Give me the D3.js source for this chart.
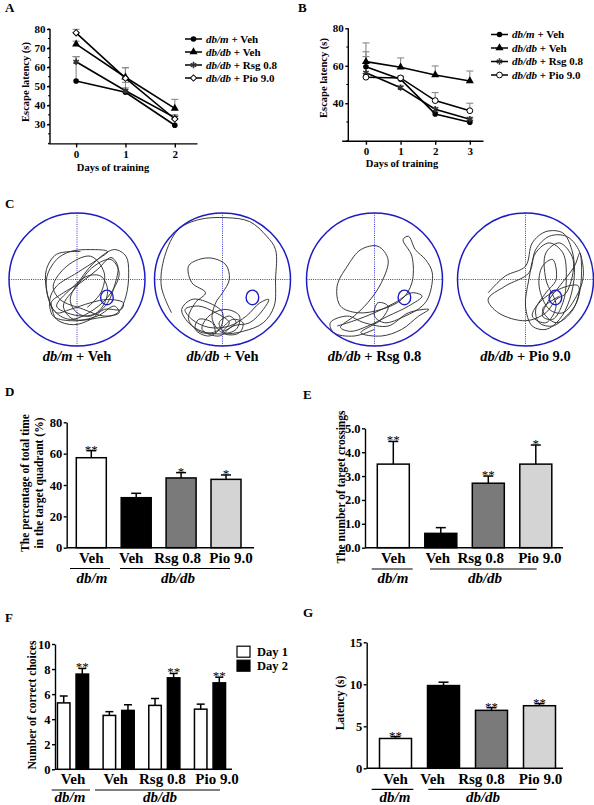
<!DOCTYPE html>
<html><head><meta charset="utf-8">
<script src="https://cdn.jsdelivr.net/npm/d3@7"></script>
<style>
body{margin:0;background:#fff}
svg{display:block}
text{font-family:"Liberation Serif","Times New Roman",serif;font-weight:bold;fill:#000}
</style>
</head><body>
<svg id="c" width="594" height="805"></svg>
<script>
// ---------------- DATA ----------------
const groupNames = ["db/m","db/db","db/db","db/db"];
const treatNames = [" + Veh"," + Veh"," + Rsg 0.8"," + Pio 9.0"];

// Panel A (escape latency, days 0-2)
const daysA = [0,1,2];
const A_dbmVeh  = [52.7,46.8,29.5], A_dbmVehErr  = [12.8,5.2,4.5];
const A_dbdbVeh = [72.1,54.7,38.4], A_dbdbVehErr = [1.5,5.0,4.7];
const A_dbdbRsg = [62.8,47.6,33.5], A_dbdbRsgErr = [2.7,1.5,1.5];
const A_dbdbPio = [78.0,54.2,32.8], A_dbdbPioErr = [1.8,5.5,1.5];
const A_yTicks = [30,40,50,60,70,80];

// Panel B (escape latency, days 0-3)
const daysB = [0,1,2,3];
const B_dbmVeh  = [59.5,52.8,34.3,29.9], B_dbmVehErr  = [8.0,1.5,1.0,1.0];
const B_dbdbVeh = [62.2,59.2,55.1,51.9], B_dbdbVehErr = [10.0,5.0,4.8,5.3];
const B_dbdbRsg = [56.3,48.3,36.8,31.5], B_dbdbRsgErr = [8.6,1.0,1.0,1.0];
const B_dbdbPio = [53.9,53.5,41.4,36.0], B_dbdbPioErr = [2.0,1.0,4.3,4.0];
const B_yTicks = [40,60,80];

// Panel C swim paths (normalised pool coordinates, x right, y down, radius 1)
const poolNames = ["dbm_veh","dbdb_veh","dbdb_rsg","dbdb_pio"];
const platformPos = [0.44,0.27];
const path_dbmVeh = [[0.05,-0.42],[-0.3,-0.38],[-0.45,-0.15],[-0.45,0.15],[-0.38,0.4],[-0.3,0.6],[-0.05,0.68],[0.2,0.6],[0.4,0.45],[0.65,0.45],[0.68,0.35],[0.45,0.3],[0.2,0.35],[-0.1,0.45],[-0.3,0.5],[-0.38,0.35],[-0.2,0.2],[0.05,0.05],[0.3,-0.15],[0.5,-0.33],[0.6,-0.2],[0.55,0.1],[0.45,0.35],[0.3,0.5],[0.1,0.55],[-0.15,0.5],[-0.3,0.4],[-0.1,0.15],[0.15,-0.05],[0.35,-0.05],[0.45,0.15],[0.38,0.4],[0.2,0.55],[0.0,0.5],[-0.1,0.3],[0.05,0.0],[0.3,-0.3],[0.55,-0.45],[0.72,-0.35],[0.76,-0.1],[0.72,0.25],[0.6,0.5],[0.3,0.58],[-0.1,0.62],[-0.35,0.55],[-0.4,0.3],[-0.3,0.1],[0.0,-0.1],[0.3,-0.3],[0.45,-0.42],[0.2,-0.45],[-0.1,-0.42],[-0.3,-0.3],[-0.45,0.0],[-0.35,0.45],[-0.1,0.6],[0.25,0.45],[0.5,0.2],[0.62,-0.1],[0.5,-0.3],[0.25,-0.2],[0.0,0.1],[-0.2,0.4],[-0.05,0.6],[0.3,0.55],[0.55,0.4],[0.62,0.5],[0.4,0.55],[0.1,0.45],[-0.25,0.3],[-0.35,0.1],[-0.15,-0.2],[0.2,-0.35],[0.4,-0.1],[0.35,0.2],[0.15,0.42]];
const path_dbdbVeh = [[-0.75,0.5],[-0.9,0.1],[-0.85,-0.35],[-0.65,-0.75],[-0.35,-0.9],[0.05,-0.93],[0.4,-0.87],[0.65,-0.65],[0.78,-0.45],[0.78,0.0],[0.76,0.4],[0.6,0.65],[0.3,0.78],[0.0,0.82],[-0.3,0.78],[-0.5,0.65],[-0.6,0.45],[-0.45,0.3],[-0.2,0.35],[0.0,0.5],[-0.05,0.75],[-0.3,0.8],[-0.5,0.6],[-0.4,0.35],[-0.25,0.2],[-0.45,0.05],[-0.5,-0.2],[-0.35,-0.3],[-0.15,-0.32],[0.05,-0.22],[0.1,0.0],[0.0,0.2],[-0.1,0.35],[-0.15,0.6],[0.0,0.8],[0.2,0.75],[0.25,0.55],[0.05,0.45],[-0.2,0.55],[-0.3,0.75],[-0.05,0.85],[0.15,0.7],[0.4,0.65],[0.6,0.45],[0.68,0.3],[0.55,0.35],[0.35,0.55],[0.1,0.7],[-0.2,0.72],[-0.45,0.6],[-0.55,0.45],[-0.35,0.4],[-0.1,0.5],[0.1,0.65],[0.0,0.78],[0.2,0.65],[0.1,0.55],[-0.05,0.65],[0.05,0.82],[0.25,0.8],[0.3,0.65],[0.15,0.6],[0.0,0.72],[-0.2,0.85],[-0.4,0.75],[-0.35,0.6],[-0.15,0.65],[-0.1,0.82]];
const path_dbdbRsg = [[-0.55,0.7],[-0.3,0.62],[0.0,0.5],[0.3,0.35],[0.55,0.2],[0.7,0.25],[0.5,0.4],[0.2,0.55],[-0.1,0.7],[-0.35,0.78],[-0.5,0.72],[-0.3,0.55],[-0.1,0.35],[0.1,0.05],[0.2,-0.3],[0.05,-0.5],[-0.2,-0.45],[-0.4,-0.2],[-0.55,0.1],[-0.5,0.4],[-0.25,0.5],[0.1,0.45],[0.4,0.3],[0.55,0.05],[0.55,-0.35],[0.42,-0.6],[0.5,-0.65],[0.6,-0.45],[0.75,-0.3],[0.85,-0.1],[0.8,0.25],[0.7,0.4],[0.45,0.55],[0.15,0.65],[0.0,0.55],[0.05,0.35],[0.2,0.4],[0.1,0.6],[-0.2,0.8],[0.1,0.85],[0.4,0.75],[0.65,0.55],[0.8,0.45],[0.5,0.5],[0.2,0.7],[-0.15,0.65],[-0.4,0.55],[-0.65,0.65],[-0.6,0.8],[-0.3,0.85],[0.0,0.75]];
const path_dbdbPio = [[-0.55,0.2],[-0.3,-0.05],[0.0,-0.2],[0.1,-0.55],[0.3,-0.72],[0.55,-0.7],[0.68,-0.45],[0.72,-0.1],[0.65,0.3],[0.5,0.6],[0.3,0.75],[0.1,0.7],[0.0,0.4],[0.05,0.0],[0.15,-0.4],[0.35,-0.55],[0.55,-0.4],[0.6,0.0],[0.55,0.35],[0.4,0.6],[0.25,0.55],[0.35,0.3],[0.5,0.1],[0.72,-0.2],[0.8,-0.4],[0.82,0.0],[0.75,0.35],[0.6,0.55],[0.4,0.7],[0.2,0.65],[0.15,0.45],[0.3,0.2],[0.45,0.0],[0.4,-0.3],[0.25,-0.2],[0.2,0.1],[0.35,0.45],[0.55,0.5],[0.75,0.25],[0.85,-0.05],[0.78,-0.45],[0.6,-0.65],[0.35,-0.65],[0.15,-0.45],[0.05,-0.1],[-0.3,0.1],[-0.55,0.3],[-0.4,0.5],[0.0,0.62],[0.3,0.5],[0.45,0.3],[0.6,0.2],[0.7,-0.3],[0.5,-0.55],[0.3,-0.4],[0.3,0.0],[0.45,0.4],[0.3,0.65],[0.1,0.55],[0.25,0.3],[0.62,0.1],[0.78,0.1],[0.7,0.45],[0.45,0.65],[0.25,0.45],[0.5,0.25]];

// Bar categories
const barCats = ["Veh","Veh ","Rsg 0.8","Pio 9.0"];
// Panel D: % time in target quadrant
const D_vals = [57.4,31.9,44.5,43.6], D_errs = [4.5,2.8,3.4,2.8], D_sig = ["**","","*","*"];
const D_yTicks = [0,20,40,60,80];
// Panel E: number of target crossings
const E_vals = [3.5,0.6,2.7,3.5], E_errs = [0.95,0.24,0.3,0.8], E_sig = ["**","","**","*"];
const E_yTicks = [0,1,2,3,4,5];
// Panel F: number of correct choices (Day 1 / Day 2)
const F_days = ["Day 1","Day 2"];
const F_day1 = [5.3,4.3,5.1,4.8], F_day1Err = [0.55,0.3,0.55,0.4];
const F_day2 = [7.6,4.7,7.3,6.9], F_day2Err = [0.45,0.45,0.35,0.45];
const F_sig2 = ["**","","**","**"];
const F_yTicks = [0,2,4,6,8,10];
// Panel G: latency
const G_vals = [3.55,9.85,6.9,7.45], G_errs = [0.22,0.4,0.32,0.25], G_sig = ["**","","**","**"];
const G_yTicks = [0,5,10,15];

// ---------------- HELPERS ----------------
const svg = d3.select("#c");
svg.append("rect").attr("width",594).attr("height",805).attr("fill","#fff");
const barFills = ["#ffffff","#000000","#7a7a7a","#d4d4d4"];

function rich(sel, parts){
  parts.forEach(p=>sel.append("tspan").text(p[0]).style("font-style",p[1]?"italic":"normal"));
  return sel;
}
function panelLetter(t,x,y){
  svg.append("text").attr("x",x).attr("y",y).attr("font-size",13).text(t);
}
function styleAxis(g,fs){
  g.attr("font-family",null).attr("font-size",null);
  g.selectAll("path,line").attr("stroke","#000").attr("stroke-width",1.4);
  g.selectAll("text").attr("font-size",fs).style("font-weight","bold").attr("fill","#000");
}

// ---------------- LINE CHARTS ----------------
function lineChart(o){
  const g = svg.append("g");
  const x = d3.scaleLinear().domain(o.xDomain).range(o.xRange);
  const y = d3.scaleLinear().domain(o.yDomain).range(o.yRange);
  g.selectAll(".mt").data(o.minor).join("line")
    .attr("x1",o.yAxisX-2).attr("x2",o.yAxisX).attr("y1",d=>y(d)).attr("y2",d=>y(d))
    .attr("stroke","#000").attr("stroke-width",1);
  const ya = g.append("g").attr("transform",`translate(${o.yAxisX},0)`)
    .call(d3.axisLeft(y).tickValues(o.yTicks).tickSize(3).tickPadding(1.5).tickSizeOuter(0));
  ya.select(".domain").attr("d",`M0,${o.yRange[0]}V${y(o.yDomain[1])}`);
  styleAxis(ya,11);
  const xa = g.append("g").attr("transform",`translate(0,${o.yRange[0]})`)
    .call(d3.axisBottom(x).tickValues(o.days).tickSize(4).tickPadding(3).tickFormat(d3.format("d")).tickSizeOuter(0));
  styleAxis(xa,11);
  g.append("text").attr("x",o.xTitle[0]).attr("y",o.xTitle[1]).attr("text-anchor","middle").attr("font-size",10.5).text("Days of training");
  g.append("text").attr("transform",`translate(${o.yTitle[0]},${o.yTitle[1]}) rotate(-90)`).attr("text-anchor","middle").attr("font-size",10.5).text("Escape latency (s)");
  o.series.forEach(s=>{
    s.vals.forEach((v,i)=>{
      const xx=x(o.days[i]), y0=y(v), y1=y(v+s.err[i]);
      g.append("line").attr("x1",xx).attr("x2",xx).attr("y1",y0).attr("y2",y1).attr("stroke","#8a8a8a").attr("stroke-width",1.1);
      g.append("line").attr("x1",xx-3.5).attr("x2",xx+3.5).attr("y1",y1).attr("y2",y1).attr("stroke","#8a8a8a").attr("stroke-width",1.1);
    });
  });
  const line = d3.line().x((d,i)=>x(o.days[i])).y(d=>y(d));
  o.series.forEach(s=>{
    g.append("path").attr("d",line(s.vals)).attr("fill","none").attr("stroke","#000").attr("stroke-width",1.6);
  });
  o.series.forEach(s=>{
    s.vals.forEach((v,i)=>drawMarker(g,s.marker,x(o.days[i]),y(v)));
  });
  const ly = d3.scalePoint().domain(o.series.map((s,i)=>i)).range(o.legendY);
  o.series.forEach((s,i)=>{
    const yy = ly(i);
    g.append("line").attr("x1",o.legendX).attr("x2",o.legendX+17).attr("y1",yy).attr("y2",yy).attr("stroke","#000").attr("stroke-width",1.5);
    drawMarker(g,s.marker,o.legendX+8.5,yy);
    rich(g.append("text").attr("x",o.legendX+21).attr("y",yy+3.8).attr("font-size",11),
      [[groupNames[i],true],[treatNames[i],false]]);
  });
}
function drawMarker(g,m,x,y){
  if(m==="circle") g.append("circle").attr("cx",x).attr("cy",y).attr("r",2.8).attr("fill","#000");
  else if(m==="triangle") g.append("path").attr("d",d3.symbol(d3.symbolTriangle,28)()).attr("transform",`translate(${x},${y})`).attr("fill","#000");
  else if(m==="star") g.append("path").attr("d",d3.symbol(d3.symbolAsterisk,28)()).attr("transform",`translate(${x},${y})`).attr("fill","none").attr("stroke","#333").attr("stroke-width",1.6);
  else if(m==="diamond") g.append("path").attr("d",d3.symbol(d3.symbolSquare,20)()).attr("transform",`translate(${x},${y}) rotate(45)`).attr("fill","#fff").attr("stroke","#000").attr("stroke-width",1);
  else if(m==="ocircle") g.append("circle").attr("cx",x).attr("cy",y).attr("r",2.9).attr("fill","#fff").attr("stroke","#000").attr("stroke-width",1);
}

panelLetter("A",5,12);
lineChart({
  days:daysA, xDomain:[-0.57,2.45], xRange:[48,197], yDomain:[20,80], yRange:[143.4,29],
  yAxisX:50, yTicks:A_yTicks, minor:d3.range(20,81,5),
  xTitle:[113,171], yTitle:[28.5,82],
  legendX:185, legendY:[39,78],
  series:[
    {vals:A_dbmVeh, err:A_dbmVehErr, marker:"circle"},
    {vals:A_dbdbVeh, err:A_dbdbVehErr, marker:"triangle"},
    {vals:A_dbdbRsg, err:A_dbdbRsgErr, marker:"star"},
    {vals:A_dbdbPio, err:A_dbdbPioErr, marker:"diamond"}
  ]
});
panelLetter("B",298,12);
lineChart({
  days:daysB, xDomain:[-0.7,3.38], xRange:[341.7,483], yDomain:[20,80], yRange:[140.7,28.3],
  yAxisX:348.3, yTicks:B_yTicks, minor:[20,30,50,70],
  xTitle:[402,167], yTitle:[326.5,78],
  legendX:491, legendY:[34.5,75],
  series:[
    {vals:B_dbmVeh, err:B_dbmVehErr, marker:"circle"},
    {vals:B_dbdbVeh, err:B_dbdbVehErr, marker:"triangle"},
    {vals:B_dbdbRsg, err:B_dbdbRsgErr, marker:"star"},
    {vals:B_dbdbPio, err:B_dbdbPioErr, marker:"ocircle"}
  ]
});

// ---------------- PANEL C ----------------
panelLetter("C",5,208);
const poolX = d3.scaleOrdinal().domain(poolNames).range([77,222.5,374.5,525.5]);
const poolPaths = [path_dbmVeh,path_dbdbVeh,path_dbdbRsg,path_dbdbPio];
poolNames.forEach((name,i)=>{
  const cx = poolX(name), cy = 279.5;
  const px = d3.scaleLinear().domain([-1,1]).range([cx-68,cx+68]);
  const py = d3.scaleLinear().domain([-1,1]).range([cy-66.5,cy+66.5]);
  const g = svg.append("g");
  const blue = "#1c1cc4";
  g.append("line").attr("x1",px(-1)).attr("x2",px(1)).attr("y1",py(0)).attr("y2",py(0)).attr("stroke","#3a3ad8").attr("stroke-width",1).attr("stroke-dasharray","1,1.2");
  g.append("line").attr("x1",px(0)).attr("x2",px(0)).attr("y1",py(-1)).attr("y2",py(1)).attr("stroke","#3a3ad8").attr("stroke-width",1).attr("stroke-dasharray","1,1.2");
  const ln = d3.line().x(d=>px(d[0])).y(d=>py(d[1])).curve(d3.curveCatmullRom.alpha(0.5));
  g.append("path").attr("d",ln(poolPaths[i])).attr("fill","none").attr("stroke","#303030").attr("stroke-width",0.95);
  g.append("ellipse").attr("cx",px(platformPos[0])).attr("cy",py(platformPos[1])).attr("rx",6.3).attr("ry",7.3)
    .attr("fill","none").attr("stroke",blue).attr("stroke-width",1.4);
  g.append("ellipse").attr("cx",cx).attr("cy",cy).attr("rx",68).attr("ry",66.5).attr("fill","none").attr("stroke",blue).attr("stroke-width",1.5);
  rich(g.append("text").attr("x",cx).attr("y",361).attr("text-anchor","middle").attr("font-size",14.5),
    [[groupNames[i],true],[treatNames[i],false]]);
});

// ---------------- BAR CHARTS ----------------
function groupLabels(g,o){
  o.catX.forEach((cx,i)=>{
    g.append("text").attr("x",cx+o.labDx[i]).attr("y",o.labY).attr("text-anchor","middle").attr("font-size",15).text(barCats[i].trim());
  });
  o.lines.forEach(l=>g.append("line").attr("x1",l[0]).attr("x2",l[1]).attr("y1",o.lineY).attr("y2",o.lineY).attr("stroke","#000").attr("stroke-width",1.2));
  o.groupX.forEach((gx,i)=>{
    g.append("text").attr("x",gx).attr("y",o.groupY).attr("text-anchor","middle").attr("font-size",15).style("font-style","italic").text(["db/m","db/db"][i]);
  });
}
function barChart(o){
  const g = svg.append("g");
  const y = d3.scaleLinear().domain([0,o.yMax]).range(o.yRange);
  const x = d3.scalePoint().domain(barCats).range(o.xRange);
  const ya = g.append("g").attr("transform",`translate(${o.axisX},0)`)
    .call(d3.axisLeft(y).tickValues(o.yTicks).tickSize(3).tickPadding(1.5).tickSizeOuter(0));
  styleAxis(ya,12.5);
  g.append("line").attr("x1",o.axisX).attr("x2",o.axisEnd).attr("y1",y(0)).attr("y2",y(0)).attr("stroke","#000").attr("stroke-width",1.6);
  o.vals.forEach((v,i)=>{
    const cx = x(barCats[i]);
    const top = y(v+o.errs[i]);
    g.append("line").attr("x1",cx).attr("x2",cx).attr("y1",y(v)).attr("y2",top).attr("stroke","#000").attr("stroke-width",1.5);
    g.append("line").attr("x1",cx-5).attr("x2",cx+5).attr("y1",top).attr("y2",top).attr("stroke","#000").attr("stroke-width",1.5);
    g.append("rect").attr("x",cx-o.bw/2).attr("width",o.bw).attr("y",y(v)).attr("height",y(0)-y(v))
      .attr("fill",barFills[i]).attr("stroke","#000").attr("stroke-width",1.5);
    if(o.sig[i]) g.append("text").attr("x",cx).attr("y",top+3).attr("text-anchor","middle").attr("font-size",13).style("font-weight","normal").text(o.sig[i]);
  });
  const t = g.append("text").attr("transform",`translate(${o.yTitle[0]},${o.yTitle[1]}) rotate(-90)`).attr("text-anchor","middle").attr("font-size",o.yTitleFs);
  o.yTitleLines.forEach((s,i)=>t.append("tspan").attr("x",0).attr("dy",i?o.yTitleFs*1.3:0).text(s));
  groupLabels(g,{catX:barCats.map(c=>x(c)),labDx:o.labDx,labY:o.labY,lineY:o.lineY,groupY:o.groupY,lines:o.lines,groupX:o.groupX});
}

panelLetter("D",5,396);
barChart({yMax:80, yRange:[547.7,422.3], yTicks:D_yTicks, xRange:[91.3,226], bw:30, axisX:66.7, axisEnd:254,
  vals:D_vals, errs:D_errs, sig:D_sig, yTitle:[28.5,483], yTitleLines:["The percentage of total time","in the target quadrant (%)"], yTitleFs:11.5,
  labDx:[0,-5,-3.5,5], labY:563, lineY:568.5, groupY:582.5, lines:[[70,110],[120,230]], groupX:[92,178]});

panelLetter("E",303,399);
barChart({yMax:5, yRange:[547.7,428.3], yTicks:E_yTicks, xRange:[393.3,535.8], bw:32, axisX:365, axisEnd:563,
  vals:E_vals, errs:E_errs, sig:E_sig, yTitle:[345,487], yTitleLines:["The number of target crossings"], yTitleFs:11.5,
  labDx:[0,-3,-7.5,4], labY:563, lineY:569, groupY:582.5, lines:[[371.7,412.7],[430,536.7]], groupX:[393,485]});

panelLetter("G",303,617);
barChart({yMax:15, yRange:[768.3,642.3], yTicks:G_yTicks, xRange:[395.5,539.5], bw:32, axisX:366.7, axisEnd:563,
  vals:G_vals, errs:G_errs, sig:G_sig, yTitle:[344,703], yTitleLines:["Latency (s)"], yTitleFs:11.5,
  labDx:[0,-11,-10,1], labY:784, lineY:789.3, groupY:801.5, lines:[[371.7,413.3],[428.3,536.7]], groupX:[395,483]});

// Panel F grouped bars
panelLetter("F",5,622);
(function(){
  const g = svg.append("g");
  const y = d3.scaleLinear().domain([0,10]).range([769.3,644]);
  const x = d3.scalePoint().domain(barCats).range([73,210]);
  const xs = d3.scalePoint().domain(F_days).range([-9.3,9.3]);
  const bw = 12.5;
  const ya = g.append("g").attr("transform","translate(55,0)")
    .call(d3.axisLeft(y).tickValues(F_yTicks).tickSize(3).tickPadding(1.5).tickSizeOuter(0));
  styleAxis(ya,12.5);
  g.append("line").attr("x1",55).attr("x2",232).attr("y1",y(0)).attr("y2",y(0)).attr("stroke","#000").attr("stroke-width",1.6);
  const sets = [[F_day1,F_day1Err,"#fff",null],[F_day2,F_day2Err,"#000",F_sig2]];
  sets.forEach((s,k)=>{
    s[0].forEach((v,i)=>{
      const cx = x(barCats[i]) + xs(F_days[k]);
      const top = y(v+s[1][i]);
      g.append("line").attr("x1",cx).attr("x2",cx).attr("y1",y(v)).attr("y2",top).attr("stroke","#000").attr("stroke-width",1.5);
      g.append("line").attr("x1",cx-4).attr("x2",cx+4).attr("y1",top).attr("y2",top).attr("stroke","#000").attr("stroke-width",1.5);
      g.append("rect").attr("x",cx-bw/2).attr("width",bw).attr("y",y(v)).attr("height",y(0)-y(v))
        .attr("fill",s[2]).attr("stroke","#000").attr("stroke-width",1.5);
      if(s[3] && s[3][i]) g.append("text").attr("x",cx).attr("y",top+3).attr("text-anchor","middle").attr("font-size",13).style("font-weight","normal").text(s[3][i]);
    });
  });
  g.append("text").attr("transform","translate(35.5,705) rotate(-90)").attr("text-anchor","middle").attr("font-size",11.5).text("Number of correct choices");
  const ly = d3.scalePoint().domain(F_days).range([651.7,665.7]);
  F_days.forEach((d,k)=>{
    g.append("rect").attr("x",237).attr("y",ly(d)-5.5).attr("width",13).attr("height",11).attr("fill",k?"#000":"#fff").attr("stroke","#000").attr("stroke-width",1.2);
    g.append("text").attr("x",257).attr("y",ly(d)+4.5).attr("font-size",12.5).text(d);
  });
  groupLabels(g,{catX:barCats.map(c=>x(c)),labDx:[0,-3,-2,7],labY:784,lineY:790,groupY:801.5,lines:[[51.7,90],[95,220]],groupX:[70,160]});
})();
</script>
</body></html>
